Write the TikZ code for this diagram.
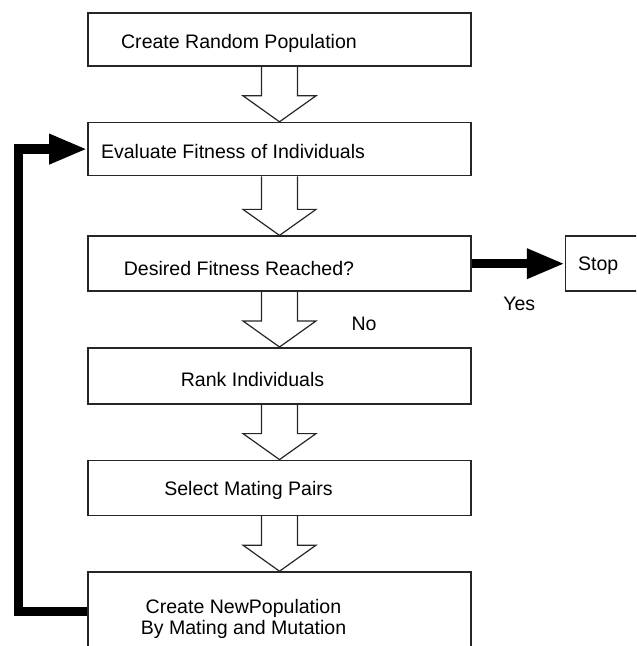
\documentclass[tikz,border=0pt]{standalone}
\usepackage{fontspec}
\setmainfont{Liberation Sans}
\usetikzlibrary{arrows.meta, positioning, calc}

\begin{document}
\begin{tikzpicture}[
    box/.style={rectangle, draw=black!85, line width=0.04cm, minimum width=9.575cm, minimum height=1.325cm, inner sep=0pt},
    lbl/.style={font=\fontsize{13.9}{15}\selectfont, inner sep=0pt, align=center},
    hollow/.style={draw=black!85, line width=0.03cm, line join=miter},
    thick_arrow/.style={-{Triangle[length=0.95cm, width=0.7cm]}, line width=0.23cm}
]
    % Spacing constants
    \def\gap{1.375cm}
    \def\arrsw{0.45cm}
    \def\arrhw{0.9125cm}
    \def\arrhl{0.65cm}

    % Page frame
    \clip (0,0) rectangle (15.9,-16.15);

    % Boxes
    \node[box] (create) at (6.9875,-0.9875) {};
    \node[box, below=\gap of create] (evaluate) {};
    \node[box, minimum height=1.375cm, below=1.475cm of evaluate] (desired) {};
    \node[box, minimum height=1.4cm, below=\gap of desired] (rank) {};
    \node[box, minimum height=1.375cm, below=\gap of rank] (select) {};
    \node[box, minimum height=2.6cm, below=\gap of select] (newpop) {};
    \node[box, minimum width=2.4cm, minimum height=1.375cm, right=2.325cm of desired] (stop) {};

    % Box texts
    \node[lbl] (createtxt) at ($(create.center)+(-1.0125,-0.0875)$) {Create Random Population};
    \node[lbl] (evaluatetxt) at ($(evaluate.center)+(-1.1625,-0.0625)$) {Evaluate Fitness of Individuals};
    \node[lbl] (desiredtxt) at ($(desired.center)+(-1.0125,-0.1125)$) {Desired Fitness Reached?};
    \node[lbl] (ranktxt) at ($(rank.center)+(-0.675,-0.1)$) {Rank Individuals};
    \node[lbl] (selecttxt) at ($(select.center)+(-0.775,-0.0625)$) {Select Mating Pairs};
    \node[lbl] (newpoptxt) at ($(newpop.north)+(-0.9,-1.1875)$) {Create NewPopulation\\By Mating and Mutation};
    \node[lbl, anchor=west] (stoptxt) at ($(stop.west)+(0.325,-0.0625)$) {Stop};

    % Hollow arrows between steps
    \foreach \a/\b in {create/evaluate, evaluate/desired, desired/rank, rank/select, select/newpop}
        \draw[hollow] ($(\a.south)+(-\arrsw,0)$) -- ($(\b.north)+(-\arrsw,\arrhl)$)
            -- ($(\b.north)+(-\arrhw,\arrhl)$) -- (\b.north)
            -- ($(\b.north)+(\arrhw,\arrhl)$) -- ($(\b.north)+(\arrsw,\arrhl)$)
            -- ($(\a.south)+(\arrsw,0)$);

    % Yes / No branches
    \draw[thick_arrow] (desired.east) -- (stop.west);
    \node[lbl] (yes) at ($(desired.south east)+(1.1875,-0.3)$) {Yes};
    \node[lbl] (no) at ($(desired.south)+(2.1125,-0.8)$) {No};

    % Loop back to evaluation
    \coordinate (back) at ($(newpop.north west)+(0,-1.0125)$);
    \draw[thick_arrow] (back) -- ++(-1.725,0) |- (evaluate.west);

\end{tikzpicture}
\end{document}
